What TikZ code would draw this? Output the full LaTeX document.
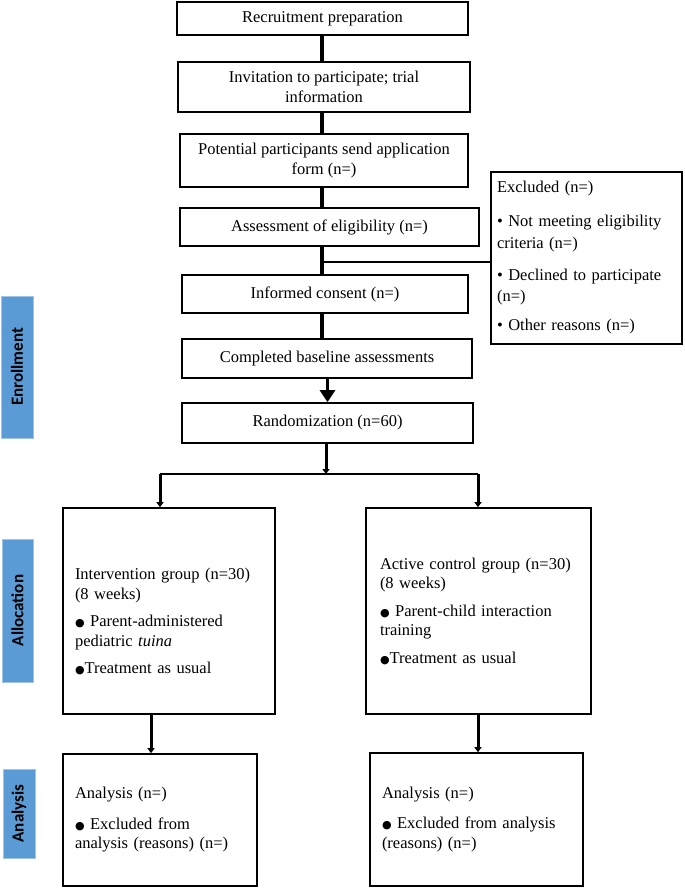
\documentclass[tikz,border=0pt]{standalone}
\usepackage{fontspec}
\usepackage{tikz}
\usetikzlibrary{arrows.meta}
\setmainfont{Liberation Serif}
\newfontfamily\labelfont{Carlito}
\newfontfamily\symfont{DejaVu Sans}
\newcommand{\bigdot}{{\symfont\fontsize{11}{11}\selectfont ●}}
\definecolor{phaseblue}{RGB}{91,155,213}
\definecolor{phaseedge}{RGB}{160,195,230}
\tikzset{
  box/.style={draw, line width=1.6pt, align=center, inner sep=2pt,
    font=\fontsize{16.5}{19.5}\selectfont},
  listbox/.style={box, align=left, inner xsep=12pt},
  phase/.style={fill=phaseblue, draw=phaseedge, line width=0.8pt, rotate=90,
    font=\labelfont\bfseries\fontsize{17}{17}\selectfont},
  link/.style={line width=3.5pt},
  tip/.style={line width=3pt, -{Triangle[width=7pt,length=5pt]}},
  bigtip/.style={line width=3.5pt, -{Triangle[width=15pt,length=12pt]}}
}
\begin{document}
\begin{tikzpicture}[x=1pt, y=-1pt]
\useasboundingbox (0,0) rectangle (685,889);

% enrollment column
\node[box, minimum width=291pt, minimum height=33pt] (recruit) at (322.5,18.5) {Recruitment preparation};
\node[box, minimum width=292pt, minimum height=50pt] (invite) at (324,87) {Invitation to participate; trial\\information};
\node[box, minimum width=288pt, minimum height=53pt] (apply) at (324,160.5) {Potential participants send application\\form (n=)};
\node[box, minimum width=299pt, minimum height=38pt] (assess) at (329.5,227) {Assessment of eligibility (n=)};
\node[box, minimum width=286pt, minimum height=38pt] (consent) at (325,294) {Informed consent (n=)};
\node[box, minimum width=290pt, minimum height=39pt] (baseline) at (327,358.5) {Completed baseline assessments};
\node[box, minimum width=291pt, minimum height=40pt] (random) at (327.5,423) {Randomization (n=60)};

\node[listbox, inner xsep=6pt, text width=179pt, minimum height=172pt,
      font=\fontsize{16.5}{21.5}\selectfont] (excl) at (586.5,258)
  {Excluded (n=)\\[12.5pt]
   • Not meeting eligibility\\criteria (n=)\\[10.5pt]
   • Declined to participate\\(n=)\\[7.5pt]
   • Other reasons (n=)};

% allocation
\node[listbox, text width=188pt, minimum height=206pt] (interv) at (169,611)
  {\rule{0pt}{33pt}Intervention group (n=30)\\(8 weeks)\\[8pt]
   \bigdot{} Parent-administered\\pediatric \textit{tuina}\\[8pt]
   \bigdot Treatment as usual};
\node[listbox, inner xsep=14pt, text width=197pt, minimum height=206pt] (control) at (478.5,611)
  {Active control group (n=30)\\(8 weeks)\\[8pt]
   \bigdot{} Parent-child interaction\\training\\[8pt]
   \bigdot Treatment as usual};

% analysis
\node[listbox, text width=170pt, minimum height=132pt] (analysisL) at (160,820)
  {Analysis (n=)\\[11pt]
   \bigdot{} Excluded from\\analysis (reasons) (n=)};
\node[listbox, text width=189pt, minimum height=133pt] (analysisR) at (476.5,819.5)
  {Analysis (n=)\\[11pt]
   \bigdot{} Excluded from analysis\\(reasons) (n=)};

% phase labels
\node[phase, minimum width=142pt, minimum height=32pt] (enrol) at (17,367) {Enrollment};
\node[phase, minimum width=143pt, minimum height=31pt] (alloc) at (17.5,610.5) {Allocation};
\node[phase, minimum width=89pt, minimum height=32pt] (anal) at (19,813.5) {Analysis};

% connectors
\coordinate (spine) at (322,0);
\coordinate (split) at (322,262);
\coordinate (fork) at (326,474);
\coordinate (forkL) at (160,474);
\coordinate (forkR) at (478,474);

\draw[link] (recruit.south -| spine) -- (invite.north -| spine);
\draw[link] (invite.south -| spine) -- (apply.north -| spine);
\draw[link] (apply.south -| spine) -- (assess.north -| spine);
\draw[link] (assess.south -| spine) -- (consent.north -| spine);
\draw[line width=1.8pt] (split) -- (split -| excl.west);
\draw[link] (consent.south -| spine) -- (baseline.north -| spine);
\draw[bigtip] (baseline.south -| random.north) -- (random.north);

\draw[tip] (random.south -| fork) -- (fork);
\draw[line width=2.2pt] (forkL) -- (forkR);
\draw[tip] (forkL) -- (forkL |- interv.north);
\draw[tip] (forkR) -- (forkR |- control.north);

\draw[tip] (interv.south -| 151,0) -- (analysisL.north -| 151,0);
\draw[tip] (control.south -| forkR) -- (analysisR.north -| forkR);

\end{tikzpicture}
\end{document}
